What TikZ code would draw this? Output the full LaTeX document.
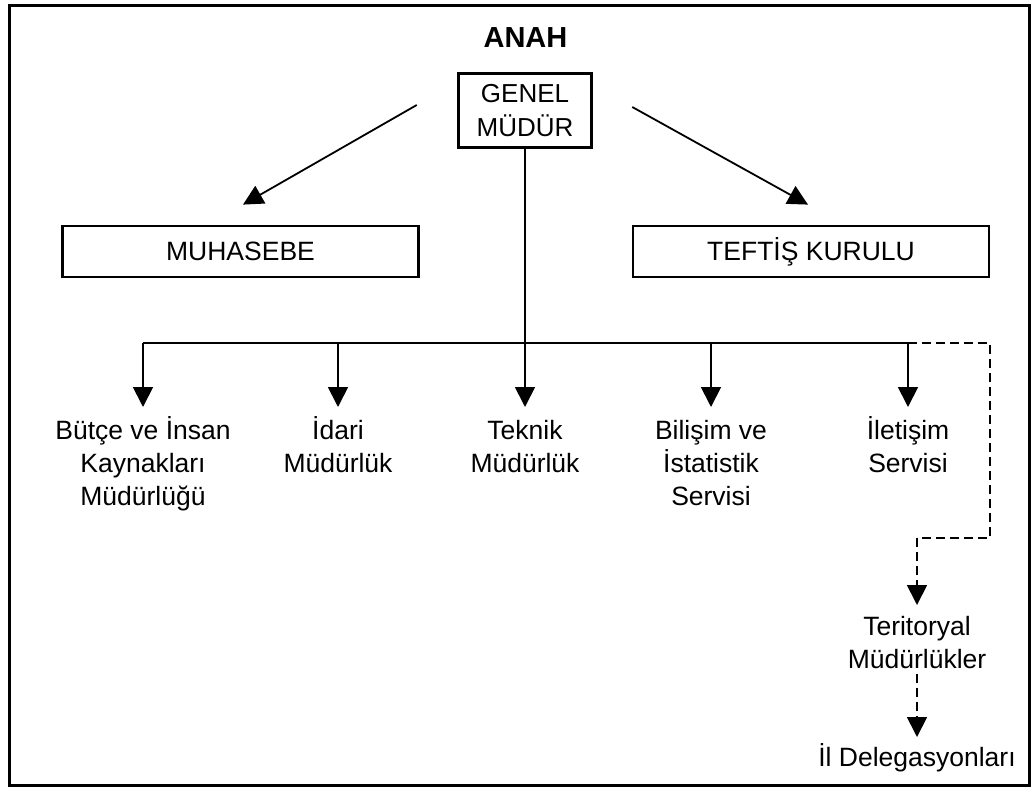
\documentclass[tikz,border=0pt]{standalone}
\usepackage{fontspec}
\setmainfont{Liberation Sans}
\usetikzlibrary{arrows.meta,calc}
\newcommand{\tallstrut}{\vphantom{İ}}
\begin{document}
\begin{tikzpicture}[x=1pt,y=-1pt,
  every node/.style={font=\fontsize{26.5}{33}\selectfont},
  box/.style={draw, line width=2.8pt, minimum width=356pt, minimum height=51pt, inner sep=0},
  gmbox/.style={draw, line width=3.5pt, minimum width=133pt, minimum height=74pt, align=center, inner sep=0,
    font=\fontsize{26}{34}\selectfont},
  lbl/.style={align=center, anchor=north, inner sep=0},
  conn/.style={line width=1.8pt},
  arr/.style={conn, -{Triangle[width=20pt,length=20pt]}},
  darr/.style={arr, dash pattern=on 9pt off 5pt},
  dline/.style={conn, dash pattern=on 9pt off 5pt},
]
\useasboundingbox (0,0) rectangle (1036,792);
\draw[line width=3pt] (9.5,5.5) rectangle (1029.5,785.5);

\node[font=\fontsize{29}{33}\selectfont\bfseries] (anah) at (525.5,38) {ANAH};
\node[gmbox] (gm) at (525,110.5) {GENEL\\MÜDÜR};
\node[box] (muh) at (240.5,251.5) {MUHASEBE};
\node[box] (tef) at (811,251.5) {TEFTİŞ KURULU};

\draw[arr] ([shift={(-40,-5.5)}]gm.west) -- ([shift={(2.5,-20)}]muh.north);
\draw[arr] ([shift={(39,-3.5)}]gm.east) -- ([shift={(-3,-20)}]tef.north);

\coordinate (b1) at (143,343);
\coordinate (b2) at (338,343);
\coordinate (b4) at (711,343);
\coordinate (b5) at (908,343);
\coordinate (d1) at (990,343);
\coordinate (d2) at (990,538);
\coordinate (d3) at (917,538);

\node[lbl] (n1) at (143,416) {\tallstrut Bütçe ve İnsan\\Kaynakları\\Müdürlüğü};
\node[lbl] (n2) at (338,416) {\tallstrut İdari\\Müdürlük};
\node[lbl] (n3) at (525,416) {\tallstrut Teknik\\Müdürlük};
\node[lbl] (n4) at (711,416) {\tallstrut Bilişim ve\\İstatistik\\Servisi};
\node[lbl] (n5) at (908,416) {\tallstrut İletişim\\Servisi};
\node[lbl] (n6) at (917,612) {\tallstrut Teritoryal\\Müdürlükler};
\node[lbl] (n7) at (917,743.5) {\tallstrut İl Delegasyonları};

\draw[conn] (b1) -- (b5);
\draw[arr] (gm.south) -- ([yshift=9pt]n3.north);
\draw[arr] (b1) -- ([yshift=9pt]n1.north);
\draw[arr] (b2) -- ([yshift=9pt]n2.north);
\draw[arr] (b4) -- ([yshift=9pt]n4.north);
\draw[arr] (b5) -- ([yshift=9pt]n5.north);
\draw[dline] (b5) -- (d1) -- (d2) -- (d3);
\draw[darr] (d3) -- ([yshift=7pt]n6.north);
\draw[darr] ([yshift=-5pt]n6.south) -- ([yshift=6.5pt]n7.north);
\end{tikzpicture}
\end{document}
